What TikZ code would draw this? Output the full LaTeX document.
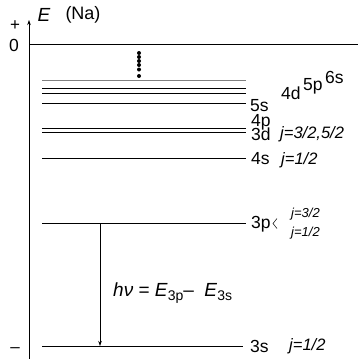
\documentclass[tikz,border=0pt]{standalone}
\usepackage{fontspec}
\setmainfont{Liberation Sans}
\usetikzlibrary{arrows.meta}
\begin{document}
\begin{tikzpicture}[x=1pt,y=-1pt,
  lvl/.style={line width=0.6pt},
  lbl/.style={anchor=west,inner sep=0pt,font=\fontsize{17.5}{17.5}\selectfont},
  jl/.style={anchor=west,inner sep=0pt,font=\fontsize{16.5}{16.5}\selectfont\itshape},
  js/.style={anchor=west,inner sep=0pt,font=\fontsize{13}{13}\selectfont\itshape},
  dot/.style={circle,fill,inner sep=0pt,minimum size=4pt}]
\useasboundingbox (0,0) rectangle (358,359);
% axis
\coordinate (axb) at (29,359);
\coordinate (axt) at (29,20);
\draw[line width=0.6pt,-{Stealth[length=5pt,width=3.5pt]}] (axb) -- (axt);
\node[inner sep=0pt,font=\fontsize{17}{17}\selectfont] (plus) at (15,26) {+};
\node[inner sep=0pt,font=\fontsize{17}{17}\selectfont] (minus) at (15,350) {–};
\node[inner sep=0pt,font=\fontsize{19}{19}\selectfont\itshape] (E) at (44,15) {E};
\node[inner sep=0pt,font=\fontsize{18}{18}\selectfont] (Na) at (83,15) {(Na)};
\node[inner sep=0pt,font=\fontsize{17.5}{17.5}\selectfont] (zero) at (14,45) {0};
% zero line
\coordinate (z0) at (29,44);
\coordinate (z1) at (358,44);
\draw[lvl] (z0) -- (z1);
% levels
\coordinate (s6a) at (42,80.7); \coordinate (s6b) at (246,80.7);
\coordinate (p5a) at (42,88.3); \coordinate (p5b) at (246,88.3);
\coordinate (d4a) at (42,93.3); \coordinate (d4b) at (246,93.3);
\coordinate (s5a) at (42,103.3); \coordinate (s5b) at (246,103.3);
\coordinate (p4a) at (42,128.3); \coordinate (p4b) at (246,128.3);
\coordinate (d3a) at (42,132.7); \coordinate (d3b) at (246,132.7);
\coordinate (s4a) at (42,158.3); \coordinate (s4b) at (246,158.3);
\coordinate (p3a) at (42,223.5); \coordinate (p3b) at (246,223.5);
\coordinate (s3a) at (42,346); \coordinate (s3b) at (243,346);
\draw[lvl,gray] (s6a) -- (s6b);
\draw[lvl] (p5a) -- (p5b);
\draw[lvl] (d4a) -- (d4b);
\draw[lvl] (s5a) -- (s5b);
\draw[lvl] (p4a) -- (p4b);
\draw[lvl] (d3a) -- (d3b);
\draw[lvl] (s4a) -- (s4b);
\draw[lvl] (p3a) -- (p3b);
\draw[lvl] (s3a) -- (s3b);
% dots
\node[dot] (d1) at (139,53) {};
\node[dot] (d2) at (139,57) {};
\node[dot] (d3) at (139,61) {};
\node[dot] (d4) at (139,65) {};
\node[dot] (d5) at (139,69.5) {};
\node[dot] (d6) at (139,76) {};
% labels
\node[lbl] (l5s) at (250,106) {5s};
\node[lbl] (l4d) at (281,93) {4d};
\node[lbl] (l5p) at (303,86.5) {5p};
\node[lbl] (l6s) at (325,77) {6s};
\node[lbl] (l4p) at (251,122.5) {4p};
\node[lbl] (l3d) at (251,134) {3d};
\node[jl] (j3d) at (280,134) {j=3/2,5/2};
\node[lbl] (l4s) at (251,159) {4s};
\node[jl] (j4s) at (281,160) {j=1/2};
\node[lbl] (l3p) at (251,224) {3p};
\coordinate (bra) at (277,218.5);
\coordinate (brb) at (273,223.5);
\coordinate (brc) at (277,228.5);
\draw[line width=0.5pt] (bra) -- (brb) -- (brc);
\node[js] (j3p1) at (291,214) {j=3/2};
\node[js] (j3p2) at (291,233) {j=1/2};
\node[lbl] (l3s) at (250,346) {3s};
\node[jl] (j3s) at (289,346) {j=1/2};
% transition
\coordinate (ta) at (100,223.5);
\coordinate (tb) at (100,346);
\draw[line width=0.6pt,-{Stealth[length=5pt,width=3.5pt]}] (ta) -- (tb);
\node[anchor=west,inner sep=0pt,font=\fontsize{19}{19}\selectfont] (hv) at (113,293)
  {\textit{hν} = \textit{E}\raisebox{-0.35ex}{\fontsize{14}{14}\selectfont 3p}–\ \ \textit{E}\raisebox{-0.35ex}{\fontsize{14}{14}\selectfont 3s}};
\end{tikzpicture}
\end{document}
